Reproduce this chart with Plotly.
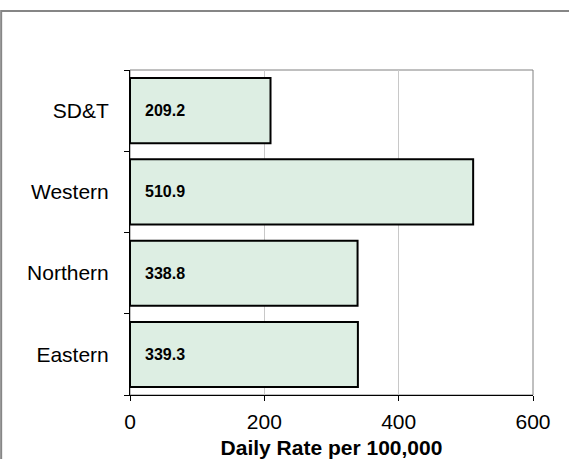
import plotly.graph_objects as go

regions = ["Eastern", "Northern", "Western", "SD&T"]
rates = [339.3, 338.8, 510.9, 209.2]
x_ticks = [0, 200, 400, 600]
x_title = "Daily Rate per 100,000"
chart_title = "Emergency Visits by Group Average (Daily Rates)"

FONT = "Liberation Sans, Arial, sans-serif"

fig = go.Figure()
fig.add_trace(go.Bar(
    x=rates, y=regions, orientation="h",
    marker=dict(color="#DDEEE3", line=dict(color="black", width=2)),
    hoverinfo="skip",
))

for r, v in zip(regions, rates):
    fig.add_annotation(x=0, y=r, xref="x", yref="y", text=f"<b>{v:.1f}</b>",
                       showarrow=False, xanchor="left", xshift=13,
                       font=dict(family=FONT, size=16, color="black"))

# clipped chart title (only descenders visible)
fig.add_annotation(x=0.5, y=1, xref="paper", yref="paper", text=f"<b>{chart_title}</b>",
                   showarrow=False, xanchor="center", yanchor="bottom", yshift=69,
                   font=dict(family=FONT, size=21, color="black"))

# plot-area border (gray)
fig.add_shape(type="rect", xref="paper", yref="paper", x0=0, x1=1, y0=0, y1=1,
              line=dict(color="#808080", width=1), layer="below")
# outer chart frame
fig.add_shape(type="rect", xref="paper", yref="paper", x0=-0.3197, x1=1.3, y0=-0.4, y1=1.1815,
              line=dict(color="#868686", width=2), layer="below")

fig.update_layout(
    width=569, height=459,
    margin=dict(l=130, r=36, t=70, b=64),
    paper_bgcolor="white", plot_bgcolor="white",
    bargap=0.2, showlegend=False,
    font=dict(family=FONT, size=21, color="black"),
    xaxis=dict(range=[0, 600], tickvals=x_ticks, ticktext=[str(t) for t in x_ticks],
               showgrid=True, gridcolor="#C8C8C8", gridwidth=1, zeroline=False,
               showline=True, linecolor="black", linewidth=1, automargin=False,
               ticks="outside", ticklen=5, tickcolor="black",
               ticklabelstandoff=3,
               tickfont=dict(family=FONT, size=21, color="black"),
               title=dict(text=f"<b>{x_title}</b>", standoff=12,
                          font=dict(family=FONT, size=21, color="black"))),
    yaxis=dict(categoryorder="array", categoryarray=regions, showgrid=False, zeroline=False,
               showline=True, linecolor="black", linewidth=1, automargin=False,
               ticks="outside", ticklen=5, tickcolor="black", tickson="boundaries",
               ticklabelstandoff=16,
               tickfont=dict(family=FONT, size=21, color="black")),
)

fig.write_html("out.html", config={"displayModeBar": False},
               post_script="document.body.style.margin='0';")
